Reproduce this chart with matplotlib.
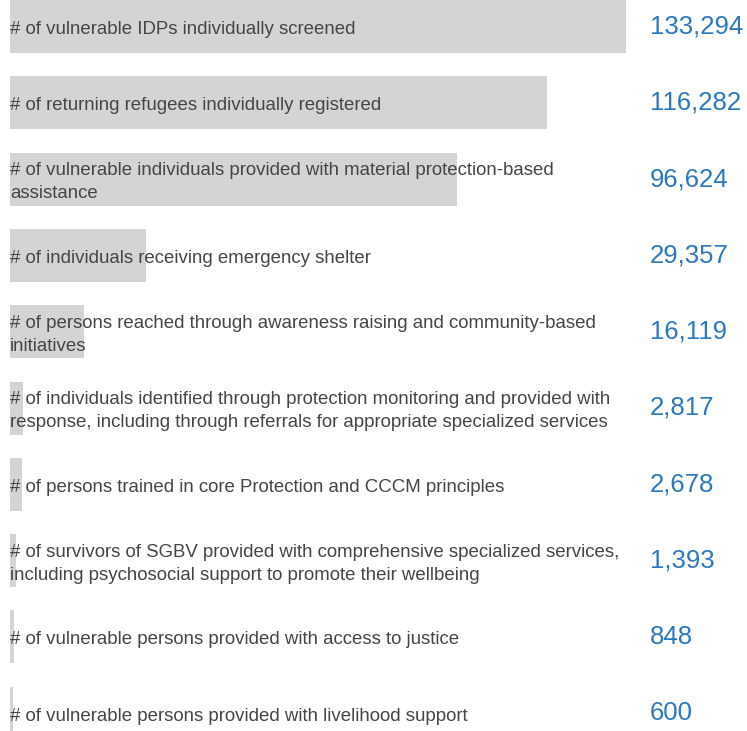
import matplotlib
matplotlib.use("Agg")
import matplotlib.pyplot as plt
import matplotlib.transforms as mtransforms

# indicator labels (already wrapped like in the original)
labels = [
    "# of vulnerable IDPs individually screened",
    "# of returning refugees individually registered",
    "# of vulnerable individuals provided with material protection-based\nassistance",
    "# of individuals receiving emergency shelter",
    "# of persons reached through awareness raising and community-based\ninitiatives",
    "# of individuals identified through protection monitoring and provided with\nresponse, including through referrals for appropriate specialized services",
    "# of persons trained in core Protection and CCCM principles",
    "# of survivors of SGBV provided with comprehensive specialized services,\nincluding psychosocial support to promote their wellbeing",
    "# of vulnerable persons provided with access to justice",
    "# of vulnerable persons provided with livelihood support",
]
values = [133294, 116282, 96624, 29357, 16119, 2817, 2678, 1393, 848, 600]

W, H = 747, 731
fig = plt.figure(figsize=(W / 100, H / 100), dpi=100)
ax = fig.add_axes([0, 0, 1, 1])
plt.rcParams['font.family'] = ['Liberation Sans', 'DejaVu Sans']

# pixel geometry of the layout
left_px = 10
full_px = 616          # width of the largest bar
row_px = 76.3
first_center = 26.5
k = max(values) / full_px

ys = list(range(len(values)))
ax.barh(ys, values, height=53 / row_px, left=0, color="#d3d4d6")
ax.set_xlim(-left_px * k, (W - left_px) * k)
ax.set_ylim((H - first_center) / row_px, -first_center / row_px)
ax.axis("off")

# labels sit a touch lower than the bar centre
lab_trans = ax.transData + mtransforms.ScaledTranslation(0, -3 / 100, fig.dpi_scale_trans)
trans = mtransforms.blended_transform_factory(ax.transAxes, ax.transData)
for y, lab, v in zip(ys, labels, values):
    ax.text(0, y, lab, ha="left", va="center", fontsize=13.4,
            color="#454545", linespacing=1.45, family="Liberation Sans",
            transform=lab_trans)
    ax.text(650 / W, y, f"{v:,}", ha="left", va="center", fontsize=18.5,
            color="#2b78c0", transform=trans, family="Liberation Sans")

fig.savefig("out.png", dpi=100)
